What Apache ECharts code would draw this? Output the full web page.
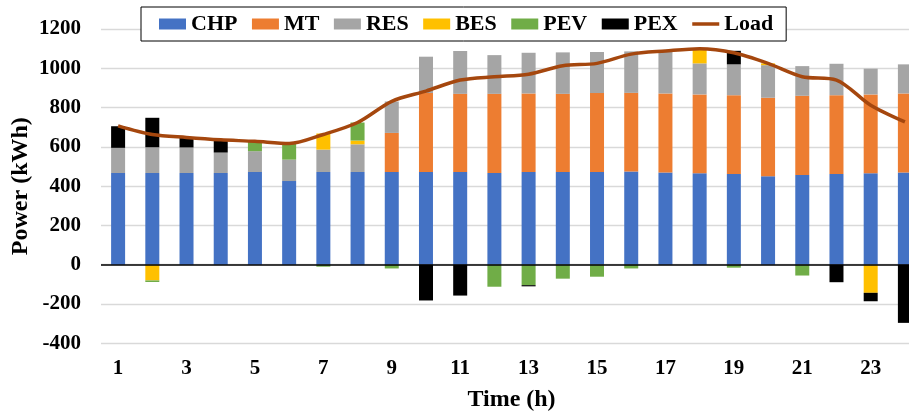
<!DOCTYPE html>
<html>
<head>
<meta charset="utf-8">
<script src="https://cdn.jsdelivr.net/npm/echarts@6/dist/echarts.min.js"></script>
<style>html,body{margin:0;padding:0;background:#fff;}#c{width:909px;height:416px;}</style>
</head>
<body>
<div id="c"></div>
<script>
const hours = ['1','2','3','4','5','6','7','8','9','10','11','12','13','14','15','16','17','18','19','20','21','22','23','24'];
const CHP  = [467,467,467,467,472,426,472,472,472,472,472,467,472,472,472,474,469,466,462,450,457,462,466,469];
const MT   = [0,0,0,0,0,0,0,0,199,402,398,403,400,398,402,401,403,401,401,400,403,401,401,403];
const RES  = [128,131,130,104,106,109,114,141,160,185,218,197,207,211,209,211,218,158,157,166,151,160,131,148];
const BES  = [0,-80,0,0,0,0,82,19,0,0,0,0,0,0,0,0,0,68,0,9,0,0,-143,0];
const PEV  = [0,-8,0,0,47,82,-10,92,-19,0,0,-112,-104,-71,-61,-19,0,0,-15,0,-55,0,0,0];
const PEX  = [110,150,50,63,0,0,0,0,0,-182,-157,0,-6,0,0,0,0,0,69,0,0,-89,-43,-296];
const Load = [707,663,648,636,628,617,663,724,832,884,940,957,970,1013,1025,1072,1088,1100,1079,1025,957,940,812,727];
const yTicks = {min:-400, max:1200, interval:200};

const font = 'Liberation Serif, Times New Roman, serif';
const chart = echarts.init(document.getElementById('c'));
function barSeries(name, data, color, extra) {
  return Object.assign({
    name: name, type: 'bar', stack: 'p', data: data, barWidth: 14,
    itemStyle: {color: color}, emphasis: {disabled: true}
  }, extra || {});
}
const lineIcon = 'path://M0,0L0.01,0L0,0.01Z M0,3.8L27,3.8L27,7.2L0,7.2Z M0,11L0.01,11L0,10.99Z';
chart.setOption({
  animation: false,
  grid: {left: 101, right: -13, top: 29, bottom: 72.7, containLabel: false, outerBoundsMode: 'none'},
  legend: {
    left: 141, top: 7,
    padding: [6, 13, 6, 18],
    itemWidth: 27, itemHeight: 11, itemGap: 14.5,
    borderColor: '#000', borderWidth: 1, backgroundColor: '#fff',
    textStyle: {fontFamily: font, fontWeight: 'bold', fontSize: 22, color: '#000'},
    data: [
      {name:'CHP', icon:'rect'}, {name:'MT', icon:'rect'}, {name:'RES', icon:'rect'},
      {name:'BES', icon:'rect'}, {name:'PEV', icon:'rect'}, {name:'PEX', icon:'rect'},
      {name:'Load', icon: lineIcon, itemStyle: {color: '#A5470E'}}
    ]
  },
  xAxis: {
    type: 'category', data: hours,
    axisLine: {show: false, onZero: false},
    axisTick: {show: false},
    axisLabel: {interval: 1, margin: 15, fontFamily: font, fontWeight: 'bold', fontSize: 21, color: '#000'},
    name: 'Time (h)', nameLocation: 'middle', nameGap: 44, nameMoveOverlap: false,
    nameTextStyle: {fontFamily: font, fontWeight: 'bold', fontSize: 24, color: '#000'}
  },
  yAxis: {
    type: 'value', min: yTicks.min, max: yTicks.max, interval: yTicks.interval,
    axisLine: {show: false}, axisTick: {show: false},
    axisLabel: {margin: 20, fontFamily: font, fontWeight: 'bold', fontSize: 21, color: '#000',
      formatter: function (v) { return String(v); }},
    splitLine: {lineStyle: {color: '#d9d9d9', width: 1.3}},
    name: 'Power (kWh)', nameLocation: 'middle', nameGap: 68, nameMoveOverlap: false,
    nameTextStyle: {fontFamily: font, fontWeight: 'bold', fontSize: 24, color: '#000'}
  },
  series: [
    barSeries('CHP', CHP, '#4472C4', {
      markLine: {silent: true, symbol: 'none', label: {show: false},
        lineStyle: {color: '#000', width: 1.5, type: 'solid'},
        data: [{yAxis: 0}]}
    }),
    barSeries('MT', MT, '#ED7D31'),
    barSeries('RES', RES, '#A5A5A5'),
    barSeries('BES', BES, '#FFC000'),
    barSeries('PEV', PEV, '#70AD47'),
    barSeries('PEX', PEX, '#000000'),
    {
      name: 'Load', type: 'line', data: Load, smooth: 0.3,
      symbol: 'none', showSymbol: false, z: 5,
      lineStyle: {color: '#A5470E', width: 3.5},
      itemStyle: {color: '#A5470E'}
    }
  ]
});
</script>
</body>
</html>
